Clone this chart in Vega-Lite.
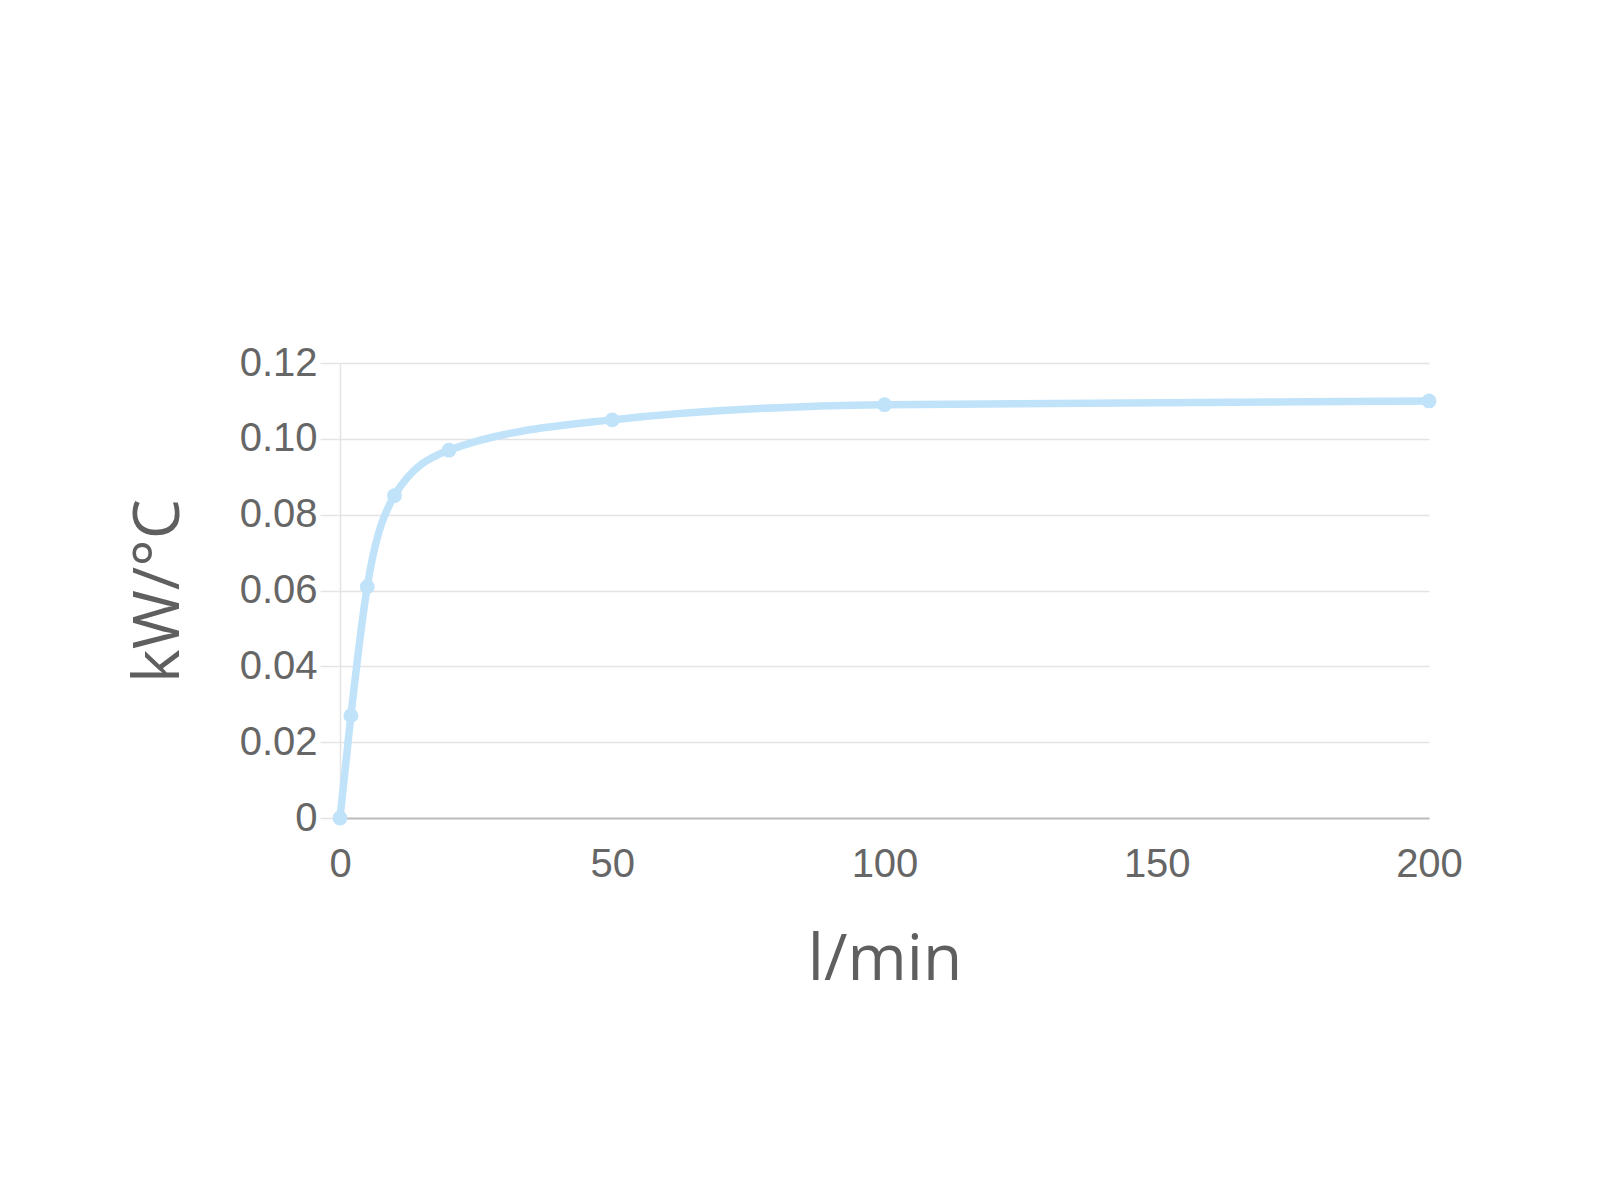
{
  "$schema": "https://vega.github.io/schema/vega-lite/v6.json",
  "width": 1089,
  "height": 455,
  "autosize": {"type": "none"},
  "padding": {"left": 340, "top": 363, "right": 171, "bottom": 382},
  "background": "white",
  "config": {
    "view": {"stroke": null},
    "axis": {
      "labelFont": "Liberation Sans",
      "labelFontSize": 40,
      "labelColor": "#666666",
      "titleFont": "Open Sans",
      "titleFontSize": 64,
      "titleFontWeight": "normal",
      "titleColor": "#5f5f5f",
      "gridColor": "#e4e4e4",
      "gridWidth": 1.5
    }
  },
  "data": {
    "values": [
      {"flow": 0, "kw": 0},
      {"flow": 2, "kw": 0.027},
      {"flow": 5, "kw": 0.061},
      {"flow": 10, "kw": 0.085},
      {"flow": 20, "kw": 0.097},
      {"flow": 50, "kw": 0.105},
      {"flow": 100, "kw": 0.109},
      {"flow": 200, "kw": 0.110}
    ]
  },
  "mark": {
    "type": "line",
    "interpolate": "monotone",
    "color": "#c0e3fa",
    "strokeWidth": 7.5,
    "point": {"filled": true, "size": 220, "color": "#c0e3fa"}
  },
  "encoding": {
    "x": {
      "field": "flow",
      "type": "quantitative",
      "title": "l/min",
      "scale": {"domain": [0, 200], "nice": false},
      "axis": {
        "values": [0, 50, 100, 150, 200],
        "grid": false,
        "ticks": false,
        "labelFlush": false,
        "domainColor": "#bdbdbd",
        "domainWidth": 2,
        "labelPadding": 26,
        "titlePadding": 44
      }
    },
    "y": {
      "field": "kw",
      "type": "quantitative",
      "title": "kW/°C",
      "scale": {"domain": [0, 0.12], "nice": false},
      "axis": {
        "values": [0, 0.02, 0.04, 0.06, 0.08, 0.1, 0.12],
        "labelExpr": "datum.value == 0 ? '0' : format(datum.value, '.2f')",
        "domainColor": "#e4e4e4",
        "domainWidth": 1.5,
        "tickColor": "#e4e4e4",
        "tickWidth": 1.5,
        "tickSize": 20,
        "labelPadding": 3,
        "titlePadding": 48
      }
    }
  }
}
